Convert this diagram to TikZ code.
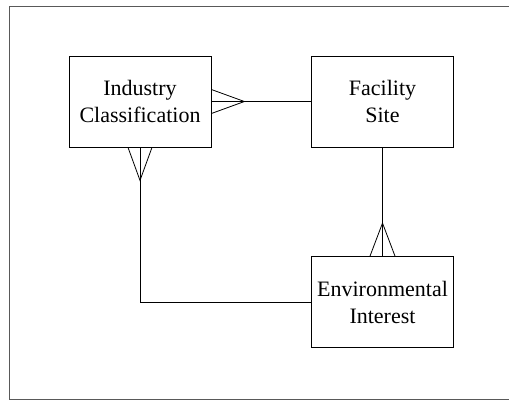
\documentclass[tikz,border=0pt]{standalone}
\usepackage{fontspec}
\setmainfont{Liberation Serif}
\usepackage{tikz}
\usetikzlibrary{positioning}

\begin{document}
\begin{tikzpicture}[x=1pt,y=1pt,line width=0.8pt,
                    every node/.style={font=\fontsize{22}{27}\selectfont}]
  \tikzstyle{entity}=[draw=black,align=center,minimum width=142pt,minimum height=91pt,inner sep=0pt]
  \useasboundingbox (0,0) rectangle (509,-400);

  % frame, open on the right
  \draw[gray!70!black] (509,-6) -- (9,-6) -- (9,-399) -- (509,-399);

  \node[entity] (IC) at (140,-101.5)                        {Industry\\Classification};
  \node[entity] (FS) [right of=IC, node distance=242.5pt]   {Facility\\Site};
  \node[entity] (EI) [below of=FS, node distance=200.5pt]   {Environmental\\Interest};

  % relationships
  \draw (IC.east) -- (FS.west);
  \draw (FS.south) -- (EI.north);
  \draw (IC.south) |- (EI.west);

  % crow's feet
  \draw ([yshift=12pt]IC.east) -- ([xshift=33pt]IC.east) -- ([yshift=-12pt]IC.east);
  \draw ([xshift=-12pt]IC.south) -- ([yshift=-33pt]IC.south) -- ([xshift=12pt]IC.south);
  \draw ([xshift=-12.5pt]EI.north) -- ([yshift=33pt]EI.north) -- ([xshift=12.5pt]EI.north);
\end{tikzpicture}
\end{document}
